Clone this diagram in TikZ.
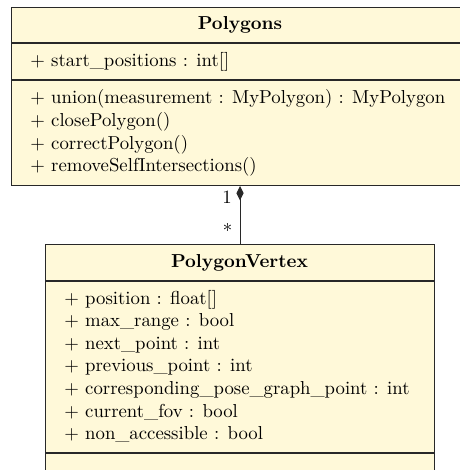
\documentclass[tikz,border=0pt]{standalone}
\usetikzlibrary{arrows.meta}
\definecolor{umlfill}{RGB}{255,249,217}
\definecolor{umldraw}{RGB}{40,40,40}
\begin{document}
\begin{tikzpicture}[x=0.5333pt,y=-0.5333pt,
  classbox/.style={draw=umldraw, fill=umlfill, line width=0.55pt, inner sep=0pt, rectangle},
  sepline/.style={draw=umldraw, line width=0.55pt},
  member/.style={anchor=base west, inner sep=0pt},
  ctitle/.style={anchor=base, inner sep=0pt, font=\bfseries},
  mult/.style={inner sep=0pt},
  assoc/.style={draw=umldraw, line width=0.55pt}]
\useasboundingbox (0,0) rectangle (459,470);
% Polygons class
\node[classbox, anchor=north west, minimum width=244.25pt, minimum height=94.93pt] (poly) at (11,7) {};
\draw[sepline] (11,43) -- (469,43);
\draw[sepline] (11,80) -- (469,80);
\node[ctitle] (polyt) at (240,29.7) {Polygons};
\node[member] (pa1) at (30,66.7) {$+$ start\_positions : int[]};
\node[member] (pm1) at (30,104) {$+$ union(measurement : MyPolygon) : MyPolygon};
\node[member] (pm2) at (30,126.6) {$+$ closePolygon()};
\node[member] (pm3) at (30,149.2) {$+$ correctPolygon()};
\node[member] (pm4) at (30,171.8) {$+$ removeSelfIntersections()};
% PolygonVertex class
\node[classbox, anchor=north west, minimum width=207.45pt, minimum height=131.2pt] (vert) at (45,244) {};
\draw[sepline] (45,281) -- (434,281);
\draw[sepline] (45,453) -- (434,453);
\node[ctitle] (vertt) at (239.5,267.3) {PolygonVertex};
\node[member] (va1) at (64,304) {$+$ position : float[]};
\node[member] (va2) at (64,326.6) {$+$ max\_range : bool};
\node[member] (va3) at (64,349.2) {$+$ next\_point : int};
\node[member] (va4) at (64,371.8) {$+$ previous\_point : int};
\node[member] (va5) at (64,394.4) {$+$ corresponding\_pose\_graph\_point : int};
\node[member] (va6) at (64,417) {$+$ current\_fov : bool};
\node[member] (va7) at (64,439.6) {$+$ non\_accessible : bool};
% composition
\coordinate (ctop) at (vert.north |- poly.south);
\draw[assoc, {Diamond[length=7.6pt, width=3.8pt]}-] (ctop) -- (vert.north);
\node[mult, anchor=base east] (m1) at (232,203) {1};
\node[mult, anchor=center] (m2) at (227.5,230) {*};
\end{tikzpicture}
\end{document}
